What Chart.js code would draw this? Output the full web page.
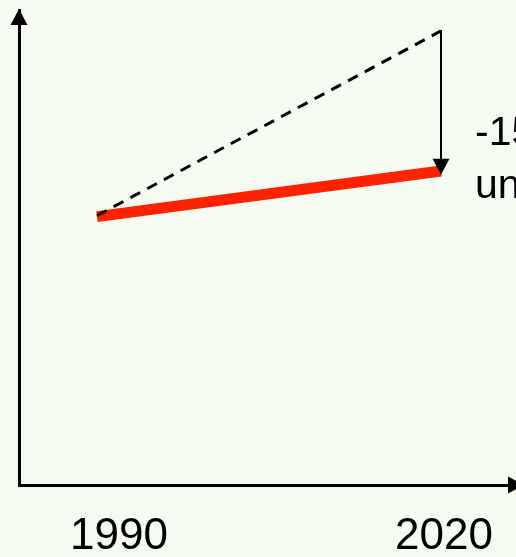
<!DOCTYPE html>
<html>
<head>
<meta charset="utf-8">
<script src="https://cdn.jsdelivr.net/npm/chart.js@4"></script>
<style>
  html, body { margin: 0; padding: 0; background: #f5fbf0; }
  #wrap { width: 516px; height: 557px; overflow: hidden; }
</style>
</head>
<body>
<div id="wrap"><canvas id="c" width="516" height="557"></canvas></div>
<script>
// ---- data ----
const years = [1990, 2020];
const tickLabels = ['1990', '2020'];
const actualEmissions = [56.5, 66.1];     // red thick line
const baselineEmissions = [56.7, 95.6];   // dashed business-as-usual
const reductionArrow = [95.8, 65.3];      // vertical arrow at 2020 (top -> tip)
const annotationLines = ['-15%', 'unter Trend'];

const FONT = '"Liberation Sans", Arial, sans-serif';

const decorations = {
  id: 'decorations',
  afterDatasetsDraw(chart) {
    const ctx = chart.ctx;
    const a = chart.chartArea;
    const xs = chart.scales.x, ys = chart.scales.y;
    ctx.save();
    ctx.fillStyle = '#000';
    // y-axis arrowhead
    ctx.beginPath();
    ctx.moveTo(a.left, a.top - 1);
    ctx.lineTo(a.left - 8.5, a.top + 15);
    ctx.lineTo(a.left + 8.5, a.top + 15);
    ctx.closePath();
    ctx.fill();
    // x-axis arrowhead
    ctx.beginPath();
    ctx.moveTo(a.right - 8, a.bottom - 8.5);
    ctx.lineTo(a.right - 8, a.bottom + 8.5);
    ctx.lineTo(a.right + 8, a.bottom);
    ctx.closePath();
    ctx.fill();
    // reduction arrowhead
    const px = xs.getPixelForValue(years[1]);
    const py = ys.getPixelForValue(reductionArrow[1]);
    ctx.beginPath();
    ctx.moveTo(px, py);
    ctx.lineTo(px - 8.5, py - 16);
    ctx.lineTo(px + 8.5, py - 16);
    ctx.closePath();
    ctx.fill();
    // annotation text
    ctx.font = '41px ' + FONT;
    ctx.textBaseline = 'alphabetic';
    ctx.textAlign = 'left';
    ctx.fillText(annotationLines[0], px + 34, 145);
    ctx.fillText(annotationLines[1], px + 34, 198);
    ctx.restore();
  }
};

const pts = (arr) => years.map((y, i) => ({ x: y, y: arr[i] }));

new Chart(document.getElementById('c'), {
  type: 'line',
  data: {
    datasets: [
      {
        data: pts(baselineEmissions),
        borderColor: '#000',
        borderWidth: 3,
        borderDash: [11, 8],
        pointRadius: 0,
        xAxisID: 'x', yAxisID: 'y'
      },
      {
        data: pts(actualEmissions),
        borderColor: '#ff2200',
        borderWidth: 11,
        borderCapStyle: 'butt',
        pointRadius: 0,
        xAxisID: 'x', yAxisID: 'y'
      },
      {
        data: [{ x: years[1], y: reductionArrow[0] }, { x: years[1], y: reductionArrow[1] + 3 }],
        borderColor: '#000',
        borderWidth: 2,
        pointRadius: 0,
        xAxisID: 'x', yAxisID: 'y'
      }
    ]
  },
  options: {
    responsive: false,
    animation: false,
    devicePixelRatio: 1,
    layout: { padding: { top: 10, right: 0, left: 0, bottom: 0 } },
    plugins: { legend: { display: false }, tooltip: { enabled: false } },
    scales: {
      x: {
        type: 'linear', display: false,
        min: 1983.2, max: 2026.54
      },
      x2: {
        type: 'linear', position: 'bottom',
        min: 1980.77, max: 2026.65,
        grid: { display: false },
        border: { display: true, width: 3, color: '#000' },
        afterBuildTicks: (s) => { s.ticks = years.map(v => ({ value: v })); },
        afterFit: (s) => { s.height = 72; },
        ticks: {
          autoSkip: false, maxRotation: 0, padding: 17,
          color: '#000',
          font: { family: FONT, size: 44 },
          callback: (v) => tickLabels[years.indexOf(v)]
        }
      },
      y: {
        type: 'linear', position: 'left',
        min: 0, max: 100,
        grid: { display: false },
        border: { display: true, width: 3, color: '#000' },
        ticks: { display: false },
        afterFit: (s) => { s.width = 19; }
      }
    }
  },
  plugins: [decorations]
});
</script>
</body>
</html>
